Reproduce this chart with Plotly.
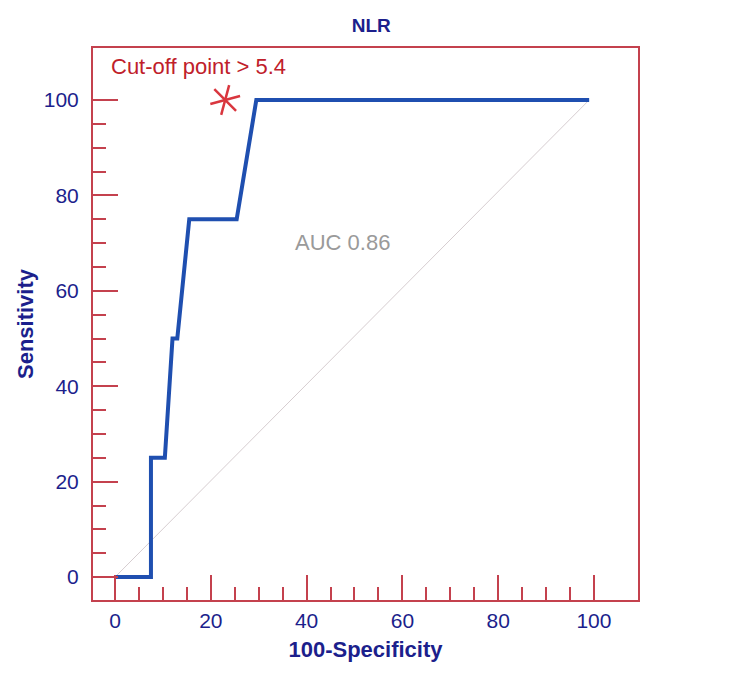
import plotly.graph_objects as go

# ROC curve data (100-Specificity, Sensitivity)
fpr = [0, 7.5, 7.5, 10.4, 12, 13, 15.5, 25.4, 29.5, 99]
tpr = [0, 0, 25, 25, 50, 50, 75, 75, 100, 100]
ref_x = [0, 99]
ref_y = [0, 100]
cut_x = [23]
cut_y = [100]
major_ticks = [0, 20, 40, 60, 80, 100]
minor_ticks = [5, 10, 15, 25, 30, 35, 45, 50, 55, 65, 70, 75, 85, 90, 95]

RED = "#c4414e"
NAVY = "#1c1f8c"
STAR = "#d9363e"
FONT = "Liberation Sans, Arial, sans-serif"

fig = go.Figure()
fig.add_trace(go.Scatter(x=ref_x, y=ref_y, mode="lines",
                         line=dict(color="#d6cdd0", width=1), hoverinfo="skip"))
fig.add_trace(go.Scatter(x=fpr, y=tpr, mode="lines",
                         line=dict(color="#1f4fb0", width=4)))
# six-armed asterisk built from three rotated line markers
for ang in (15, 75, 135):
    fig.add_trace(go.Scatter(x=cut_x, y=cut_y, mode="markers",
                             marker=dict(symbol="line-ns-open", size=22, angle=ang,
                                         color=STAR,
                                         line=dict(color=STAR, width=2.5))))

axis_common = dict(showline=True, linecolor=RED, linewidth=2, mirror=True,
                   showgrid=False, zeroline=False, ticks="inside",
                   tickcolor=RED, tickwidth=2, ticklen=25,
                   tickvals=major_ticks,
                   tickfont=dict(family=FONT, size=21, color=NAVY),
                   minor=dict(tickvals=minor_ticks, ticks="inside", ticklen=13,
                              tickcolor=RED, tickwidth=2, showgrid=False))

fig.update_layout(
    width=750, height=680,
    margin=dict(l=93, r=112, t=48, b=80),
    plot_bgcolor="white", paper_bgcolor="white",
    showlegend=False,
    font=dict(family=FONT),
    title=dict(text="<b>NLR</b>", x=0.495, xanchor="center", y=0.963, yanchor="middle",
               font=dict(family=FONT, size=19, color=NAVY)),
    xaxis=dict(range=[-4.6, 109.2], ticklabelstandoff=1,
               title=dict(text="<b>100-Specificity</b>", standoff=10,
                          font=dict(family=FONT, size=22, color=NAVY)),
               **axis_common),
    yaxis=dict(range=[-4.8, 110.9], ticklabelstandoff=8,
               title=dict(text="<b>Sensitivity</b>", standoff=4,
                          font=dict(family=FONT, size=22, color=NAVY)),
               **axis_common),
    annotations=[
        dict(x=-1.3, y=107, xref="x", yref="y", text="Cut-off point > 5.4",
             showarrow=False, xanchor="left", yanchor="middle",
             font=dict(family=FONT, size=22, color="#c0202a")),
        dict(x=37.2, y=70.2, xref="x", yref="y", text="AUC 0.86",
             showarrow=False, xanchor="left", yanchor="middle",
             font=dict(family=FONT, size=22, color="#9a9a9a")),
    ],
)

fig.write_html("out.html")
